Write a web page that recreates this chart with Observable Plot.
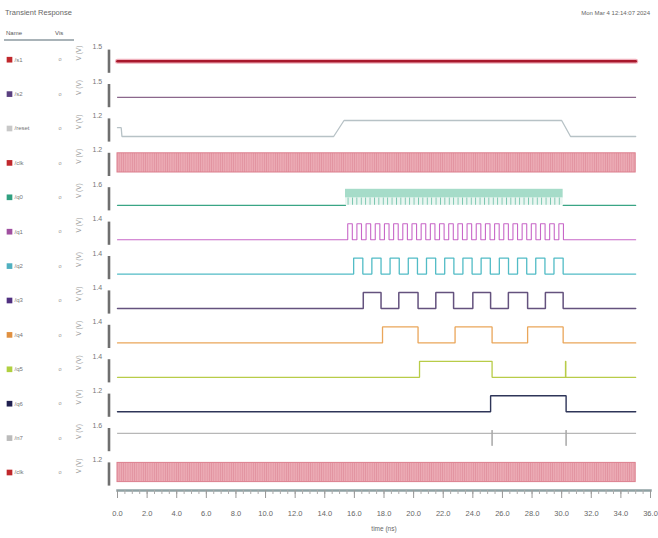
<!DOCTYPE html>
<html>
<head>
<meta charset="utf-8">
<script src="https://cdn.jsdelivr.net/npm/d3@7"></script>
<script src="https://cdn.jsdelivr.net/npm/@observablehq/plot@0.6"></script>
<style>
  html, body { margin: 0; padding: 0; background: #fff; }
  #wrap { width: 658px; height: 538px; position: relative; font-family: "Liberation Sans", Arial, sans-serif; }
  #hdr { position: relative; width: 658px; height: 40px; }
  #hdr div { position: absolute; color: #666; }
</style>
</head>
<body>
<div id="wrap">
  <div id="hdr">
    <div style="left:5px;top:8px;font-size:7.5px;">Transient Response</div>
    <div style="right:8px;top:10px;font-size:6px;">Mon Mar 4 12:14:07 2024</div>
    <div style="left:6px;top:30px;font-size:6px;color:#555;">Name</div>
    <div style="left:55px;top:30px;font-size:6px;color:#555;">Vis</div>
    <div style="left:4px;top:39px;width:70px;height:2px;background:#a9b3b8;"></div>
  </div>
  <div id="chart"></div>
</div>
<script>
// ---------- data ----------
const signalNames  = ["/s1", "/s2", "/reset", "/clk", "/q0", "/q1", "/q2", "/q3", "/q4", "/q5", "/q6", "/n7", "/clk"];
const signalColors = ["#a8182c", "#6e4270", "#b7c2c6", "#d66f7f", "#3aa585", "#c867c8", "#52bcc6", "#64527e", "#eaa65a", "#b8cc48", "#2e3558", "#a6a6a6", "#d66f7f"];
const swatchColors = ["#c0282c", "#5a4080", "#c8c8c8", "#c0282c", "#30a080", "#a050a0", "#50b0c0", "#503080", "#e09040", "#b0d040", "#202050", "#bbbbbb", "#c0282c"];
const rowTickLabels = ["1.5", "1.5", "1.2", "1.2", "1.6", "1.4", "1.4", "1.4", "1.4", "1.4", "1.2", "1.6", "1.2"];
const timeTickLabels = [0, 2, 4, 6, 8, 10, 12, 14, 16, 18, 20, 22, 24, 26, 28, 30, 32, 34, 36];
const timeSpan = [0, 35];

// waveforms: [time (ns), level 0..1]
const s1Wave = [[0, 0.4], [35, 0.4]];
const s2Wave = [[0, 0.3], [35, 0.3]];
const resetWave = [[0, 0.55], [0.25, 0.55], [0.3, 0], [14.6, 0], [15.3, 1], [30.0, 1], [30.6, 0], [35, 0]];
const clkSpan = [0, 35];          // dense clock, drawn as a filled band
const q0Burst = [15.4, 30.1];     // dense toggling burst
const q1Pulses = [[15.55, 15.86], [16.17, 16.48], [16.79, 17.10], [17.41, 17.72], [18.03, 18.34], [18.65, 18.96],
                  [19.27, 19.58], [19.89, 20.20], [20.51, 20.82], [21.13, 21.44], [21.75, 22.06], [22.37, 22.68],
                  [22.99, 23.30], [23.61, 23.92], [24.23, 24.54], [24.85, 25.16], [25.47, 25.78], [26.09, 26.40],
                  [26.71, 27.02], [27.33, 27.64], [27.95, 28.26], [28.57, 28.88], [29.19, 29.50], [29.81, 30.12]];
const q2Pulses = [[15.95, 16.57], [17.18, 17.80], [18.41, 19.03], [19.64, 20.26], [20.87, 21.49], [22.10, 22.72],
                  [23.33, 23.95], [24.56, 25.18], [25.79, 26.41], [27.02, 27.64], [28.25, 28.87], [29.48, 30.10]];
const q3Pulses = [[16.6, 17.8], [19.0, 20.3], [21.5, 22.7], [24.0, 25.2], [26.4, 27.7], [28.9, 30.1]];
const q4Pulses = [[17.9, 20.3], [22.8, 25.3], [27.7, 30.1]];
const q5Pulses = [[20.4, 25.3], [30.26, 30.28]];
const q6Pulses = [[25.2, 30.3]];
const n7Level = 0.8;
const n7Glitches = [25.3, 30.3];

// ---------- build line tables ----------
const PITCH = 2.15; // row pitch in level units
const rowY = (i, v) => v - PITCH * i;

function fromPulses(pulses) {
  const pts = [[timeSpan[0], 0]];
  for (const [r, f] of pulses) { pts.push([r, 0], [r, 1], [f, 1], [f, 0]); }
  pts.push([timeSpan[1], 0]);
  return pts;
}
function fromGlitches(level, times) {
  const pts = [[timeSpan[0], level]];
  for (const t of times) { pts.push([t, level], [t, 1], [t, 0.02], [t, level]); }
  pts.push([timeSpan[1], level]);
  return pts;
}

const waves = [
  {i: 0, pts: s1Wave, w: 2.6},
  {i: 1, pts: s2Wave, w: 1},
  {i: 2, pts: resetWave, w: 1.3},
  {i: 4, pts: [[timeSpan[0], 0], [q0Burst[0], 0]], w: 1.2},
  {i: 4, pts: [[q0Burst[1], 0], [timeSpan[1], 0]], w: 1.2},
  {i: 5, pts: fromPulses(q1Pulses), w: 1.1},
  {i: 6, pts: fromPulses(q2Pulses), w: 1.3},
  {i: 7, pts: fromPulses(q3Pulses), w: 1.5},
  {i: 8, pts: fromPulses(q4Pulses), w: 1.3},
  {i: 9, pts: fromPulses(q5Pulses), w: 1.3},
  {i: 10, pts: fromPulses(q6Pulses), w: 1.4},
  {i: 11, pts: fromGlitches(n7Level, n7Glitches), w: 1}
];

const rows = signalNames.map((name, i) => ({i, name, color: signalColors[i], swatch: swatchColors[i], tick: rowTickLabels[i]}));

const bands = [
  {i: 3, x1: clkSpan[0], x2: clkSpan[1], lo: -0.1, hi: 1.1, fill: "url(#clkPat)", stroke: "#dc7f8d"},
  {i: 12, x1: clkSpan[0], x2: clkSpan[1], lo: -0.1, hi: 1.1, fill: "url(#clkPat)", stroke: "#dc7f8d"},
  {i: 4, x1: q0Burst[0], x2: q0Burst[1], lo: 0.45, hi: 1, fill: "#a6dcc9", stroke: "none"},
  {i: 4, x1: q0Burst[0], x2: q0Burst[1], lo: 0, hi: 0.45, fill: "url(#tealPat)", stroke: "none"}
];

const marks = [];
// left panel: swatch, name, vis, rotated unit label, row tick label, grey bar
marks.push(Plot.dot(rows, {y: d => rowY(d.i, 0.5), frameAnchor: "left", dx: -108, symbol: "square", r: 3.2, fill: d => d.swatch, stroke: "none"}));
marks.push(Plot.text(rows, {y: d => rowY(d.i, 0.5), text: "name", frameAnchor: "left", dx: -103, textAnchor: "start", fontSize: 6, fill: "#777"}));
marks.push(Plot.text(rows, {y: d => rowY(d.i, 0.5), text: () => "o", frameAnchor: "left", dx: -59, fontSize: 5.5, fill: "#999"}));
marks.push(Plot.text(rows, {y: d => rowY(d.i, 0.45), text: () => "V (V)", frameAnchor: "left", dx: -39, rotate: -90, fontSize: 6.5, fill: "#999"}));
marks.push(Plot.text(rows, {y: d => rowY(d.i, 1.3), text: "tick", frameAnchor: "left", dx: -25, fontSize: 7, fill: "#777"}));
marks.push(Plot.ruleX(rows, {x: () => timeSpan[0], y1: d => rowY(d.i, -0.35), y2: d => rowY(d.i, 1.1), dx: -8.5, stroke: "#6f6f6f", strokeWidth: 2.6}));

// bands (dense clocks)
for (const b of bands) {
  marks.push(Plot.rect([b], {x1: "x1", x2: "x2", y1: d => rowY(d.i, d.lo), y2: d => rowY(d.i, d.hi), fill: b.fill, stroke: b.stroke, strokeWidth: 1}));
}
// row1 halo
marks.push(Plot.line(s1Wave, {x: d => d[0], y: d => rowY(0, d[1]), stroke: "#f0b0bc", strokeWidth: 5}));
// waveforms
for (const w of waves) {
  marks.push(Plot.line(w.pts, {x: d => d[0], y: d => rowY(w.i, d[1]), stroke: signalColors[w.i], strokeWidth: w.w, strokeLinejoin: "miter"}));
}
// time axis
marks.push(Plot.frame({anchor: "bottom", stroke: "#8fa1a3", strokeWidth: 2.5}));
marks.push(Plot.axisX(d3.range(0, 36.01, 0.5), {tickSize: 4, tickFormat: () => "", stroke: "#aaa", label: null}));
marks.push(Plot.axisX(timeTickLabels, {tickSize: 8, tickPadding: 12, tickFormat: d => d.toFixed(1), stroke: "#999", fill: "#666", fontSize: 7.5, label: null}));
marks.push(Plot.text(["time (ns)"], {frameAnchor: "bottom", dy: 40, fontSize: 6.5, fill: "#666"}));

const chart = Plot.plot({
  width: 658,
  height: 498,
  marginLeft: 117,
  marginRight: 8,
  marginTop: 5,
  marginBottom: 48,
  x: {domain: [0, 36], axis: null},
  y: {domain: [rowY(12, 0) - 0.625, 1.3875], axis: null},
  style: {fontFamily: "Liberation Sans, Arial, sans-serif", background: "#fff", overflow: "visible"},
  marks
});

// patterns for the dense clock bands
const ns = "http://www.w3.org/2000/svg";
const defs = document.createElementNS(ns, "defs");
defs.innerHTML = `
  <pattern id="clkPat" patternUnits="userSpaceOnUse" width="2.2" height="20">
    <rect width="2.2" height="20" fill="#ebaab4"></rect>
    <rect width="0.6" height="20" fill="#df8d9a"></rect>
  </pattern>
  <pattern id="tealPat" patternUnits="userSpaceOnUse" width="4.4" height="20">
    <rect width="4.4" height="20" fill="#eaf6f1"></rect>
    <rect width="0.9" height="20" fill="#74c4ac"></rect>
  </pattern>`;
chart.insertBefore(defs, chart.firstChild);
document.getElementById("chart").appendChild(chart);
</script>
</body>
</html>
